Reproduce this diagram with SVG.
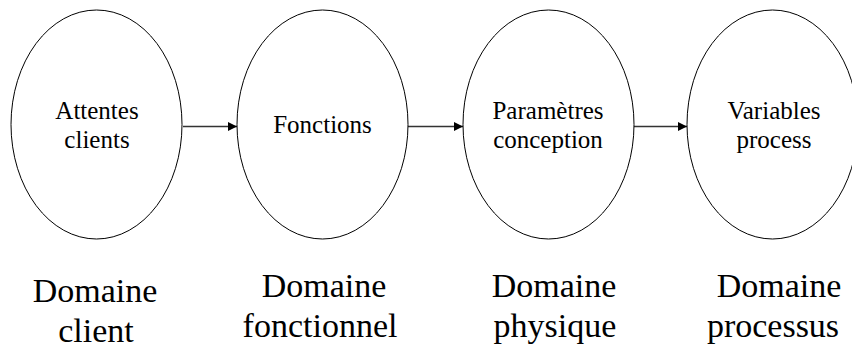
<svg xmlns="http://www.w3.org/2000/svg" width="852" height="349" viewBox="0 0 852 349">
  <style>
    .domain { fill: #ffffff; stroke: #000000; stroke-width: 1; }
    text { font-family: 'Liberation Serif', 'DejaVu Serif', serif; fill: #000000; text-anchor: middle; }
    .inner { font-size: 25px; }
    .caption { font-size: 34px; }
    .link { stroke: #333333; stroke-width: 1.5; fill: none; marker-end: url(#head); }
  </style>
  <defs>
    <marker id="head" viewBox="0 0 10 10" refX="10" refY="5" markerUnits="userSpaceOnUse" markerWidth="10" markerHeight="9" orient="auto">
      <path d="M0,0 L10,5 L0,10 Z" fill="#000000"/>
    </marker>
  </defs>
  <rect width="852" height="349" fill="#ffffff"/>

  <g id="connectors">
    <line class="link" x1="183" y1="126.5" x2="237" y2="126.5"/>
    <line class="link" x1="408" y1="126.5" x2="463" y2="126.5"/>
    <line class="link" x1="634" y1="126.5" x2="687" y2="126.5"/>
  </g>

  <g id="attentes-clients">
    <ellipse class="domain" cx="96.5" cy="124.5" rx="85.5" ry="114.5"/>
    <text class="inner" x="97" y="119">Attentes</text>
    <text class="inner" x="97" y="148">clients</text>
  </g>

  <g id="fonctions">
    <ellipse class="domain" cx="322.5" cy="124.5" rx="85.5" ry="114.5"/>
    <text class="inner" x="322.5" y="133">Fonctions</text>
  </g>

  <g id="parametres-conception">
    <ellipse class="domain" cx="548.5" cy="124.5" rx="85.5" ry="114.5"/>
    <text class="inner" x="548" y="119">Paramètres</text>
    <text class="inner" x="548" y="148">conception</text>
  </g>

  <g id="variables-process">
    <ellipse class="domain" cx="772.5" cy="124.5" rx="85.5" ry="114.5"/>
    <text class="inner" x="774" y="119">Variables</text>
    <text class="inner" x="774" y="148">process</text>
  </g>

  <g id="domaine-client">
    <text class="caption" x="95" y="302">Domaine</text>
    <text class="caption" x="96" y="342">client</text>
  </g>

  <g id="domaine-fonctionnel">
    <text class="caption" x="324" y="297">Domaine</text>
    <text class="caption" x="320" y="337">fonctionnel</text>
  </g>

  <g id="domaine-physique">
    <text class="caption" x="554" y="297">Domaine</text>
    <text class="caption" x="555" y="337">physique</text>
  </g>

  <g id="domaine-processus">
    <text class="caption" x="779" y="297">Domaine</text>
    <text class="caption" x="773" y="337">processus</text>
  </g>
</svg>
